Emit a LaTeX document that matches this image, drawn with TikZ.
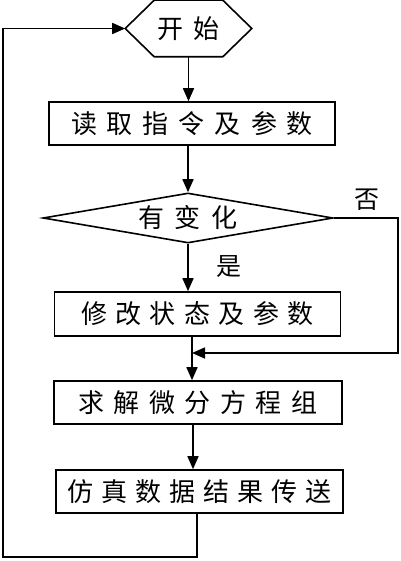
\documentclass[tikz,border=0pt]{standalone}
\usepackage{fontspec}
\newfontfamily\cjk{Noto Sans CJK SC}
\usetikzlibrary{shapes.geometric,arrows.meta}
\newcommand\gp{\hspace{10pt}}
\newcommand\gpb{\hspace{8.5pt}}
\newcommand\gpc{\hspace{8pt}}
\newcommand\gpd{\hspace{9.5pt}}
\begin{document}
\begin{tikzpicture}[x=1pt,y=1pt,
  line width=1.6pt,
  every node/.style={font=\cjk\fontsize{26}{30}\selectfont,inner sep=0pt},
  procbox/.style={draw,rectangle,minimum width=286pt,minimum height=43pt},
  decbox/.style={draw,diamond,aspect=5.8,minimum width=290pt,minimum height=50pt},
  lbl/.style={font=\cjk\fontsize{25}{28}\selectfont},
  arr/.style={-{Triangle[length=13pt,width=11pt]}}]
\useasboundingbox (0,0) rectangle (400,-561);
\node (start) [minimum width=125pt,minimum height=55pt] at (188.5,-28.5) {开\gp 始};
\draw (start.west) -- ([xshift=29pt]start.north west) -- ([xshift=-29pt]start.north east)
  -- (start.east) -- ([xshift=-29pt]start.south east) -- ([xshift=29pt]start.south west) -- cycle;
\node (b1) [procbox] at (192,-123.5) {读\gp 取\gp 指\gp 令\gp 及\gp 参\gp 数};
\node (dec) [decbox] at (188,-218) {有\hspace{10.5pt}变\hspace{10.5pt}化};
\node (b2) [procbox,minimum height=44pt] at (197.5,-314) {修\gpb 改\gpb 状\gpb 态\gpb 及\gpb 参\gpb 数};
\node (b3) [procbox,minimum width=288pt] at (198,-402.5) {求\gpd 解\gpd 微\gpd 分\gpd 方\gpd 程\gpd 组};
\node (b4) [procbox,minimum width=287pt] at (199.5,-491.5) {仿\gpc 真\gpc 数\gpc 据\gpc 结\gpc 果\gpc 传\gpc 送};
\node (no) [lbl] at (367,-200) {否};
\node (yes) [lbl] at (229,-267) {是};
\coordinate (m) at (192,-353);
\coordinate (nr) at (398,-353);
\coordinate (lb) at (3,-557);
\draw[arr] (start.south) -- (start.south |- b1.north);
\draw[arr] (dec.north |- b1.south) -- (dec.north);
\draw[arr] (dec.south) -- (dec.south |- b2.north);
\draw[arr] (m |- b2.south) -- (m |- b3.north);
\draw[arr] ([xshift=-5pt]b3.south) -- ([xshift=-5pt]b3.south |- b4.north);
\draw[arr] (dec.east) -| (nr) -- (m);
\draw[arr] ([xshift=-2.5pt]b4.south) |- (lb) |- (start.west);
\end{tikzpicture}
\end{document}
